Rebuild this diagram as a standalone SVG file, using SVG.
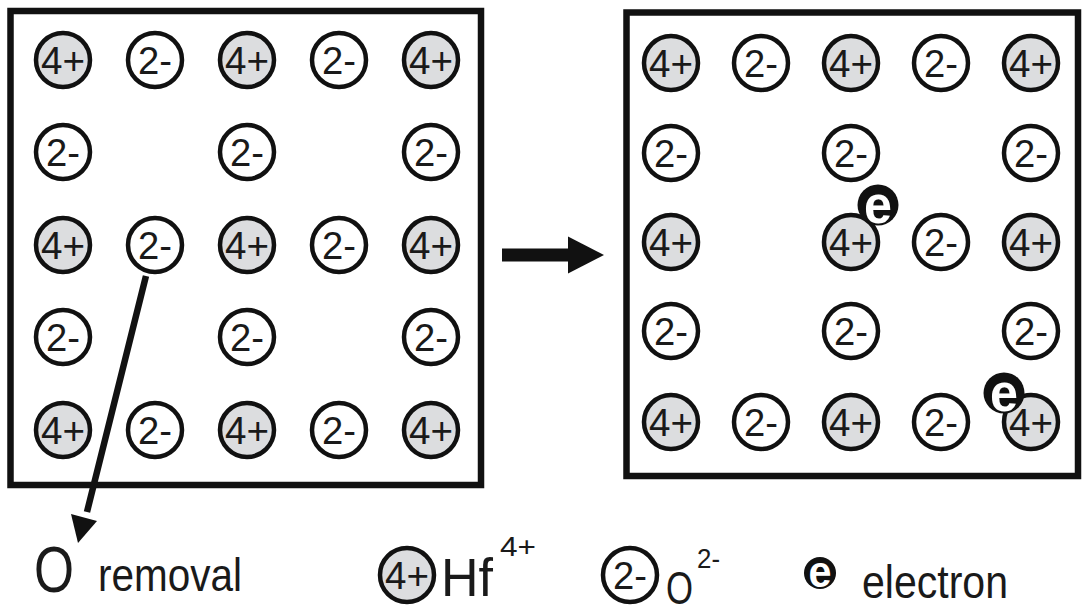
<svg xmlns="http://www.w3.org/2000/svg" width="1086" height="613" viewBox="0 0 1086 613">
<style>
.box{fill:none;stroke:#111;stroke-width:6.5}
.hf{fill:#dcdddf;stroke:#111;stroke-width:4.5}
.ox{fill:#fff;stroke:#111;stroke-width:4.5}
.lab{font-family:"Liberation Sans",Arial,sans-serif;font-size:39px;fill:#1a1a1a;text-anchor:middle}
.el{fill:#111}
.et{font-family:"Liberation Sans",Arial,sans-serif;font-weight:bold;fill:#fff;text-anchor:middle}
.leg{font-family:"Liberation Sans",Arial,sans-serif;fill:#1a1a1a}
</style>
<defs>
<g id="hfion"><circle r="27" class="hf"/><text y="14" class="lab" textLength="44" lengthAdjust="spacingAndGlyphs">4+</text></g>
<g id="oion"><circle r="27" class="ox"/><text y="14" class="lab" textLength="34" lengthAdjust="spacingAndGlyphs">2-</text></g>
<g id="elec"><circle r="20.5" class="el"/><text y="18" class="et" font-size="54" textLength="28" lengthAdjust="spacingAndGlyphs">e</text></g>
</defs>

<g id="left-lattice">
<rect x="10.5" y="11" width="470.5" height="474" class="box"/>
<use href="#hfion" x="63" y="60"/><use href="#oion" x="155" y="60"/><use href="#hfion" x="247" y="60"/><use href="#oion" x="339" y="60"/><use href="#hfion" x="431" y="60"/>
<use href="#oion" x="63" y="152"/><use href="#oion" x="247" y="152"/><use href="#oion" x="431" y="152"/>
<use href="#hfion" x="63" y="245"/><use href="#oion" x="155" y="245"/><use href="#hfion" x="247" y="245"/><use href="#oion" x="339" y="245"/><use href="#hfion" x="431" y="245"/>
<use href="#oion" x="63" y="337"/><use href="#oion" x="247" y="337"/><use href="#oion" x="431" y="337"/>
<use href="#hfion" x="63" y="430"/><use href="#oion" x="155" y="430"/><use href="#hfion" x="247" y="430"/><use href="#oion" x="339" y="430"/><use href="#hfion" x="431" y="430"/>
</g>

<g id="right-lattice">
<rect x="626.5" y="12.5" width="451.5" height="463.5" class="box"/>
<use href="#hfion" x="671" y="63"/><use href="#oion" x="761" y="63"/><use href="#hfion" x="851" y="63"/><use href="#oion" x="941" y="63"/><use href="#hfion" x="1031" y="63"/>
<use href="#oion" x="671" y="153"/><use href="#oion" x="851" y="153"/><use href="#oion" x="1031" y="153"/>
<use href="#hfion" x="671" y="242"/><use href="#hfion" x="851" y="242"/><use href="#oion" x="941" y="242"/><use href="#hfion" x="1031" y="242"/>
<use href="#oion" x="671" y="331"/><use href="#oion" x="851" y="331"/><use href="#oion" x="1031" y="331"/>
<use href="#hfion" x="671" y="422"/><use href="#oion" x="761" y="422"/><use href="#hfion" x="851" y="422"/><use href="#oion" x="941" y="422"/><use href="#hfion" x="1031" y="422"/>
</g>

<g id="electrons">
<use href="#elec" x="878" y="205"/>
<use href="#elec" x="1004" y="393"/>
</g>

<g id="connectors">
<line x1="146" y1="276" x2="87" y2="512" stroke="#111" stroke-width="6.5"/>
<polygon points="78,543 71,514 97,521" fill="#111"/>
<rect x="502" y="248.5" width="67" height="13" fill="#111"/>
<polygon points="568,236.5 604,255 568,273.5" fill="#111"/>
</g>

<g id="legend">
<text x="34" y="592" class="leg" font-size="64" textLength="40" lengthAdjust="spacingAndGlyphs">O</text>
<text x="98" y="591" class="leg" font-size="46" textLength="144" lengthAdjust="spacingAndGlyphs">removal</text>
<use href="#hfion" x="407" y="575"/>
<text x="441" y="596" class="leg" font-size="54" textLength="52" lengthAdjust="spacingAndGlyphs">Hf</text>
<text x="500" y="556" class="leg" font-size="28" textLength="36" lengthAdjust="spacingAndGlyphs">4+</text>
<use href="#oion" x="630" y="575"/>
<text x="666" y="604" class="leg" font-size="46" textLength="27" lengthAdjust="spacingAndGlyphs">O</text>
<text x="697" y="568" class="leg" font-size="28" textLength="23" lengthAdjust="spacingAndGlyphs">2-</text>
<circle cx="820" cy="573" r="16" class="el"/>
<text x="820" y="587" class="et" font-size="44" textLength="23" lengthAdjust="spacingAndGlyphs">e</text>
<text x="862" y="598" class="leg" font-size="46" textLength="146" lengthAdjust="spacingAndGlyphs">electron</text>
</g>
</svg>
